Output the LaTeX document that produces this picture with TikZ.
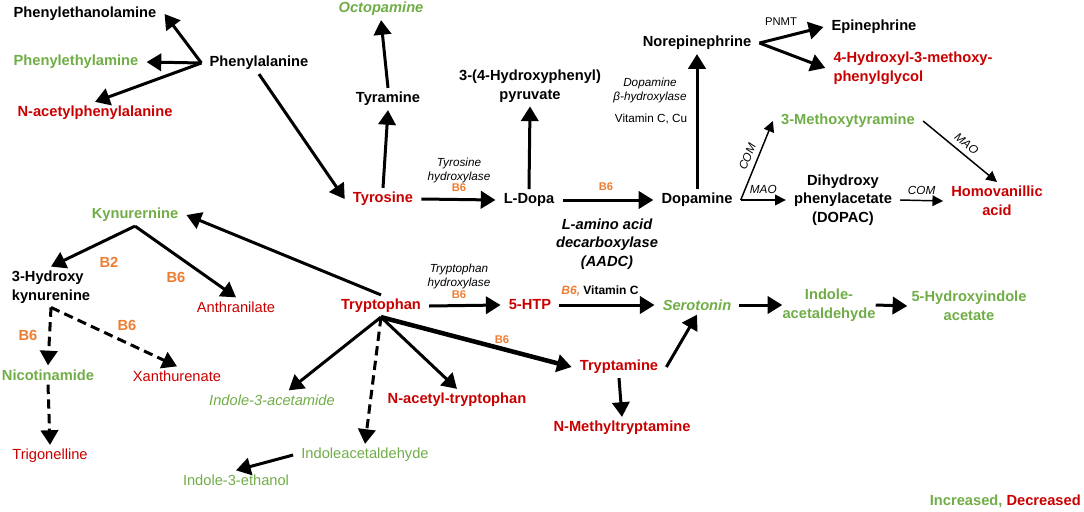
\documentclass[tikz,border=0pt]{standalone}
\usepackage{fontspec}
\setmainfont{Liberation Sans}
\usetikzlibrary{arrows.meta}
\definecolor{metgreen}{RGB}{112,173,71}
\definecolor{metred}{RGB}{200,0,0}
\definecolor{vitorange}{RGB}{237,125,49}

\begin{document}
\begin{tikzpicture}[x=0.75pt, y=-0.75pt,
	met/.style={font=\fontsize{11}{14}\selectfont\bfseries, align=center, inner xsep=6pt, inner ysep=3pt},
	reg/.style={met, font=\fontsize{11}{14}\selectfont},
	up/.style={text=metgreen},
	down/.style={text=metred},
	enz/.style={font=\fontsize{8.8}{10.5}\selectfont\itshape, align=center, inner sep=0pt},
	vit/.style={text=vitorange, font=\fontsize{8.4}{10}\selectfont\bfseries, inner sep=0pt},
	vitbig/.style={text=vitorange, font=\fontsize{11}{13}\selectfont\bfseries, inner sep=0pt},
	rxn/.style={line width=2.25pt, -{Triangle[length=11pt,width=13pt]}},
	dashrxn/.style={rxn, dash pattern=on 7pt off 4pt},
	minor/.style={line width=1.1pt, -{Triangle[length=8pt,width=8pt]}}]
		\useasboundingbox (0,0) rectangle (1084,511);
		\node[met] (phea) at (85,14) {Phenylethanolamine};
		\node[met, up] (phem) at (76,62) {Phenylethylamine};
		\node[met, down] (nphe) at (95,113) {N-acetylphenylalanine};
		\node[met] (phe) at (259,63) {Phenylalanine};
		\node[met, down] (tyr) at (383,199) {Tyrosine};
		\node[met] (tyra) at (388,99) {Tyramine};
		\node[met, up] (octo) at (381,9) {\itshape Octopamine};
		\node[met] (ldopa) at (529,200) {L-Dopa};
		\node[met] (hpp) at (530,86) {3-(4-Hydroxyphenyl)\\pyruvate};
		\node[met] (dopa) at (697,200) {Dopamine};
		\node[met] (norep) at (697,43) {Norepinephrine};
		\node[met] (epi) at (874,27) {Epinephrine};
		\node[met, down, align=left] (mhpg) at (913,68) {4-Hydroxyl-3-methoxy-\\phenylglycol};
		\node[met, up] (mtyr) at (848,121) {3-Methoxytyramine};
		\node[met] (dopac) at (843,200) {Dihydroxy\\phenylacetate\\(DOPAC)};
		\node[met, down] (hva) at (997,201) {Homovanillic\\acid};
		\node[enz] (tyh) at (459,170) {Tyrosine\\hydroxylase};
		\node[vit] (tyhb) at (459,188) {B6};
		\node[vit] (aadcb) at (606,187) {B6};
		\node[met, font=\fontsize{11}{14}\selectfont\bfseries\itshape, inner sep=0pt] (aadc) at (607,244) {L-amino acid\\decarboxylase\\(AADC)};
		\node[enz] (dbh) at (650,90) {Dopamine\\β-hydroxylase};
		\node[enz, font=\fontsize{8.8}{10.5}\selectfont] (dbhv) at (651,119) {Vitamin C, Cu};
		\node[enz, font=\fontsize{8.4}{10}\selectfont] (pnmt) at (781,22) {PNMT};
		\node[met, down] (trp) at (381,306) {Tryptophan};
		\node[met, up] (kyn) at (135,215) {Kynurernine};
		\node[met, align=left] (hkyn) at (51,287) {3-Hydroxy\\kynurenine};
		\node[reg, down] (anth) at (236,307) {Anthranilate};
		\node[met, up] (nico) at (48,375) {Nicotinamide};
		\node[reg, down] (xan) at (177,376) {Xanthurenate};
		\node[reg, down] (trig) at (50,456) {Trigonelline};
		\node[reg, up] (iam) at (272,400) {\itshape Indole-3-acetamide};
		\node[reg, up] (iald) at (365,455) {Indoleacetaldehyde};
		\node[reg, up] (ieth) at (236,480) {Indole-3-ethanol};
		\node[met, down] (natrp) at (457,400) {N-acetyl-tryptophan};
		\node[met, down] (tryp) at (619,367) {Tryptamine};
		\node[met, down] (nmt) at (622,428) {N-Methyltryptamine};
		\node[met, down] (htp) at (530,305) {5-HTP};
		\node[met, up] (ser) at (697,305) {\itshape Serotonin};
		\node[met, up, inner xsep=0pt] (iacet) at (829,305) {Indole-\\acetaldehyde};
		\node[met, up, inner xsep=3pt] (hiaa) at (969,306) {5-Hydroxyindole\\acetate};
		\node[enz] (trh) at (459,276) {Tryptophan\\hydroxylase};
		\node[vit] (trhb) at (459,295) {B6};
		\node[vit, font=\fontsize{9}{11}\selectfont\bfseries] (serv) at (600,291) {{\itshape B6,} \textcolor{black}{Vitamin C}};
		\node[vit] (trypb) at (502,340) {B6};
		\node[vitbig] (kynb2) at (109,262) {B2};
		\node[vitbig] (kynb6) at (176,277) {B6};
		\node[vitbig] (nicob) at (28,335) {B6};
		\node[vitbig] (xanb) at (127,325) {B6};
		\node[met, inner xsep=0pt, anchor=east] (legend) at (1081,501) {\textcolor{metgreen}{Increased,} \textcolor{metred}{Decreased}};
		\draw[rxn] (phe.west) -- (phea.east);
		\draw[rxn] (phe.west) -- (phem.east);
		\draw[rxn] (phe.west) -- (nphe.north);
		\draw[rxn] (phe.south) -- (tyr.west);
		\draw[rxn] (tyr.north) -- (tyra.south);
		\draw[rxn] (tyra.north) -- (octo.south);
		\draw[rxn] (tyr.east) -- (ldopa.west);
		\draw[rxn] (ldopa.north) -- (hpp.south);
		\draw[rxn] (ldopa.east) -- (dopa.west);
		\draw[rxn] (dopa.north) -- (norep.south);
		\draw[rxn] (norep.east) -- (epi.west);
		\draw[rxn] (norep.east) -- (mhpg.west);
		\draw[minor] (dopa.east) -- node[enz, sloped, above=4pt] (com1) {COM} (mtyr.west);
		\draw[minor] (dopa.east) -- node[enz, above=4pt] (mao1) {MAO} (dopac.west);
		\draw[minor] (dopac.east) -- node[enz, above=4pt] (com2) {COM} (hva.west);
		\draw[minor] (mtyr.east) -- node[enz, sloped, above=4pt] (mao2) {MAO} (hva.north);
		\draw[rxn] (trp.north) -- (kyn.east);
		\draw[rxn] (kyn.south) -- (hkyn.north);
		\draw[rxn] (kyn.south) -- (anth.north);
		\draw[dashrxn] (hkyn.south) -- (nico.north);
		\draw[dashrxn] (hkyn.south) -- (xan.north);
		\draw[dashrxn] (nico.south) -- (trig.north);
		\draw[rxn] (trp.south) -- (iam.30);
		\draw[dashrxn] (trp.south) -- (iald.north);
		\draw[rxn] (iald.west) -- (ieth.north);
		\draw[rxn] (trp.south) -- (natrp.north);
		\draw[rxn, line width=3.4pt] (trp.south) -- (tryp.west);
		\draw[rxn] (tryp.south) -- (nmt.north);
		\draw[rxn] (tryp.east) -- (ser.south);
		\draw[rxn] (trp.east) -- (htp.west);
		\draw[rxn] (htp.east) -- (ser.west);
		\draw[rxn] (ser.east) -- (iacet.west);
		\draw[rxn] (iacet.east) -- (hiaa.west);
	\end{tikzpicture}
\end{document}
